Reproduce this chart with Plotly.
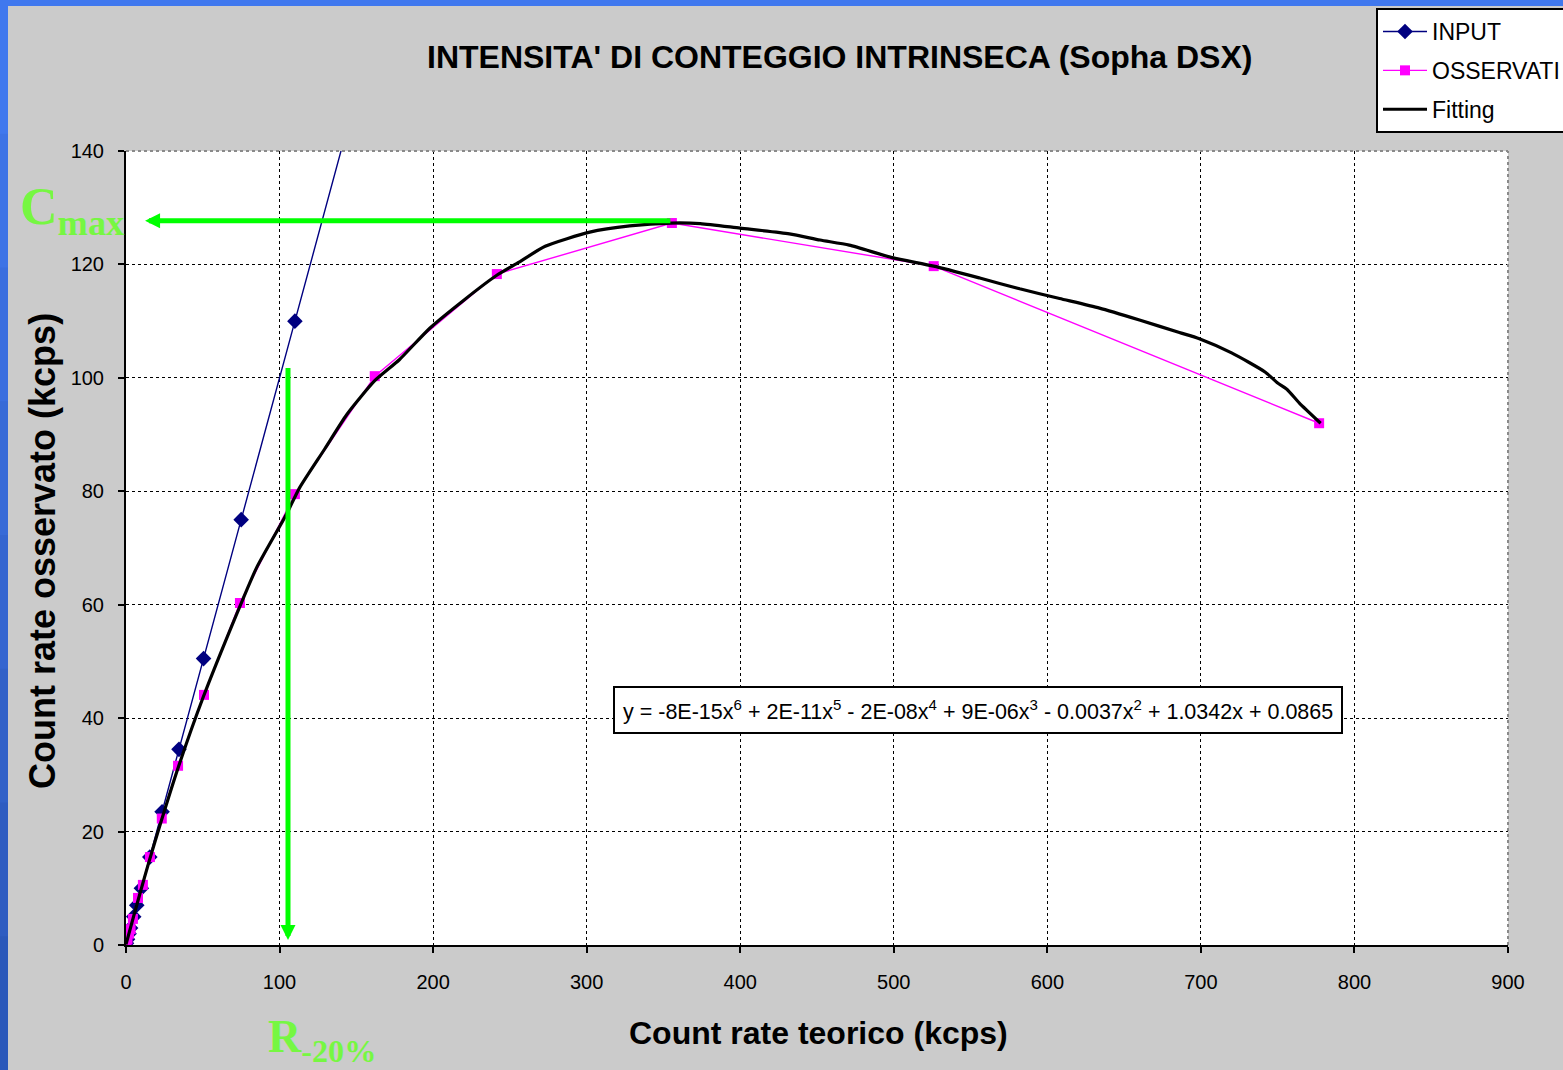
import plotly.graph_objects as go

# ---------------- data ----------------
input_x = [0.3, 1, 2, 3, 5, 7, 10, 15.5, 23.5, 34.5, 50.5, 75, 110, 162, 242, 356, 527, 778]
input_y = [0.3, 1, 2, 3, 5, 7, 10, 15.5, 23.5, 34.5, 50.5, 75, 110, 162, 242, 356, 527, 778]

obs_x = [0.3, 1, 2, 3, 4.5, 7.8, 11, 15.6, 23.3, 33.9, 50.8, 74.2, 110, 162, 241.5, 355.5, 526, 777]
obs_y = [0.3, 1, 2, 2.8, 4.6, 8.3, 10.6, 15.5, 22.3, 31.6, 44.1, 60.3, 79.5, 100.3, 118.3, 127.3, 119.7, 92]

fit_x = [0, 5, 9, 15, 23, 34, 50, 72, 85, 104.6, 113, 129.5, 143.7, 162, 178, 198, 220, 241,
         256, 273, 302, 328, 355, 374, 400, 432, 452, 471, 499, 526, 556, 582, 608, 634, 660,
         686, 699, 720, 742, 750, 756, 764, 778]
fit_y = [0.1, 5.1, 9.0, 14.7, 21.9, 31.3, 43.5, 58.3, 66.5, 76.0, 80.6, 87.5, 93.5, 99.5, 103.2,
         108.8, 113.7, 118.0, 120.4, 123.2, 125.7, 126.8, 127.3, 127.2, 126.4, 125.4, 124.3,
         123.4, 121.2, 119.7, 117.6, 115.7, 114.0, 112.3, 110.2, 108.0, 106.9, 104.4, 101.0,
         99.1, 98.0, 95.6, 92.0]

x_ticks = [0, 100, 200, 300, 400, 500, 600, 700, 800, 900]
y_ticks = [0, 20, 40, 60, 80, 100, 120, 140]

cmax_y = 127.7
cmax_x_from, cmax_x_to = 355.5, 12.4
r20_x = 105.5
r20_y_from, r20_y_to = 102.0, 0.9

title_text = "INTENSITA' DI CONTEGGIO INTRINSECA (Sopha DSX)"
xtitle = "Count rate teorico (kcps)"
ytitle = "Count rate osservato (kcps)"
eq_text = ("y = -8E-15x<sup>6</sup> + 2E-11x<sup>5</sup> - 2E-08x<sup>4</sup> + 9E-06x<sup>3</sup>"
           " - 0.0037x<sup>2</sup> + 1.0342x + 0.0865")

# ---------------- geometry ----------------
W, H = 1563, 1070
L, R, T, B = 126, 55, 151, 125
PW, PH = W - L - R, H - T - B


def px(xp):
    return (xp - L) / PW


def py(yp):
    return (H - B - yp) / PH


SANS = "Arial, Liberation Sans, sans-serif"
SERIF = "Times New Roman, Liberation Serif, serif"
GREEN = "#00ff00"
LGREEN = "#76f742"

fig = go.Figure()
fig.add_trace(go.Scatter(
    x=input_x, y=input_y, name="INPUT", mode="lines+markers", legendgroup="a",
    line=dict(color="#000080", width=1.4),
    marker=dict(symbol="diamond", size=12, color="#000080")))
fig.add_trace(go.Scatter(
    x=obs_x, y=obs_y, name="OSSERVATI", mode="lines+markers", legendgroup="b",
    line=dict(color="#ff00ff", width=1.4),
    marker=dict(symbol="square", size=10, color="#ff00ff")))
fig.add_trace(go.Scatter(
    x=fit_x, y=fit_y, name="Fitting", mode="lines", legendgroup="c",
    line=dict(color="black", width=3.2, shape="spline", smoothing=0.6)))

shapes = []
# blue frame (left strip with vertical gradient, top strip)
n = 8
c0 = (0x40, 0x78, 0xee)
c1 = (0x2b, 0x58, 0xba)
for i in range(n):
    f = i / (n - 1)
    col = "rgb(%d,%d,%d)" % tuple(int(c0[k] + (c1[k] - c0[k]) * f) for k in range(3))
    ya = H * i / n
    yb = min(H, H * (i + 1) / n + 2)
    shapes.append(dict(type="rect", xref="paper", yref="paper",
                       x0=px(0), x1=px(8), y0=py(yb), y1=py(ya),
                       fillcolor=col, line=dict(width=0), layer="above"))
shapes.append(dict(type="rect", xref="paper", yref="paper", x0=px(0), x1=px(W),
                   y0=py(6), y1=py(0), fillcolor="#4078ee", line=dict(width=0)))
# plot-area border (grey dotted top/right)
shapes.append(dict(type="line", xref="paper", yref="paper", x0=0, x1=1, y0=1, y1=1,
                   line=dict(color="#8a8a8a", width=2, dash="dot")))
shapes.append(dict(type="line", xref="paper", yref="paper", x0=1, x1=1, y0=0, y1=1,
                   line=dict(color="#8a8a8a", width=2, dash="dot")))

annotations = [
    dict(text=title_text, xref="paper", yref="paper", x=px(840), y=py(57),
         xanchor="center", yanchor="middle", showarrow=False,
         font=dict(family=SANS, size=32, color="black", weight="bold")),
    dict(text=xtitle, xref="paper", yref="paper", x=px(818), y=py(1033),
         xanchor="center", yanchor="middle", showarrow=False,
         font=dict(family=SANS, size=32, color="black", weight="bold")),
    dict(text=ytitle, xref="paper", yref="paper", x=px(42), y=py(551), textangle=-90,
         xanchor="center", yanchor="middle", showarrow=False,
         font=dict(family=SANS, size=36, color="black", weight="bold")),
    dict(text=eq_text, x=554.8, y=41.4, xref="x", yref="y", showarrow=False,
         bgcolor="white", bordercolor="black", borderwidth=2, borderpad=8,
         font=dict(family=SANS, size=21.5, color="black")),
    # green arrows
    dict(x=cmax_x_to, y=cmax_y, ax=cmax_x_from, ay=cmax_y, xref="x", yref="y",
         axref="x", ayref="y", text="", showarrow=True, arrowhead=2, arrowsize=0.6,
         arrowwidth=5, arrowcolor=GREEN, standoff=0, startstandoff=0),
    dict(x=r20_x, y=r20_y_to, ax=r20_x, ay=r20_y_from, xref="x", yref="y",
         axref="x", ayref="y", text="", showarrow=True, arrowhead=2, arrowsize=0.6,
         arrowwidth=5, arrowcolor=GREEN, standoff=0, startstandoff=0),
    dict(text="C<sub>max</sub>", xref="paper", yref="paper", x=px(126), y=py(210),
         xanchor="right", yanchor="middle", showarrow=False,
         font=dict(family=SERIF, size=52, color=LGREEN, weight="bold")),
    dict(text="R<sub>-20%</sub>", xref="paper", yref="paper", x=px(266), y=py(1040),
         xanchor="left", yanchor="middle", showarrow=False,
         font=dict(family=SERIF, size=46, color=LGREEN, weight="bold")),
]

fig.update_layout(
    width=W, height=H,
    margin=dict(l=L, r=R, t=T, b=B, pad=0, autoexpand=False),
    paper_bgcolor="#cbcbcb", plot_bgcolor="white",
    showlegend=True,
    legend=dict(x=px(1376), y=py(8), xanchor="left", yanchor="top",
                bgcolor="white", bordercolor="black", borderwidth=2,
                font=dict(family=SANS, size=23, color="black"),
                tracegroupgap=6, itemwidth=44),
    shapes=shapes, annotations=annotations,
    xaxis=dict(range=[0, 900], tickvals=x_ticks, ticktext=[str(v) for v in x_ticks],
               showgrid=True, gridcolor="black", griddash="dot", gridwidth=1,
               zeroline=False, showline=True, linecolor="black", linewidth=2,
               ticks="outside", ticklen=6, tickwidth=2, tickcolor="black",
               ticklabelstandoff=12,
               tickfont=dict(family=SANS, size=20, color="black")),
    yaxis=dict(range=[0, 140], tickvals=y_ticks, ticktext=[str(v) for v in y_ticks],
               showgrid=True, gridcolor="black", griddash="dot", gridwidth=1,
               zeroline=False, showline=True, linecolor="black", linewidth=2,
               ticks="outside", ticklen=6, tickwidth=2, tickcolor="black",
               ticklabelstandoff=10,
               tickfont=dict(family=SANS, size=20, color="black")),
)

fig.write_html("out.html")
